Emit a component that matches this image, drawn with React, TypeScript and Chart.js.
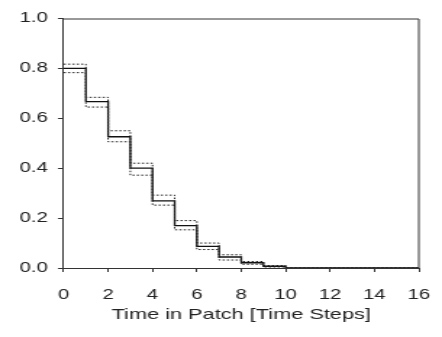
import React, { useEffect, useRef } from "react";
import { Chart, registerables } from "chart.js";

Chart.register(...registerables);

// Step boundaries (time steps) and survival proportion per step
const stepX = [0, 1, 2, 3, 4, 5, 6, 7, 8, 9, 10, 16];
const meanY = [0.8, 0.667, 0.526, 0.4, 0.269, 0.17, 0.087, 0.044, 0.021, 0.007, 0, 0];
const upperY = [0.817, 0.684, 0.55, 0.42, 0.292, 0.19, 0.1, 0.053, 0.026, 0.01, 0.001, 0];
const lowerY = [0.783, 0.645, 0.506, 0.372, 0.252, 0.153, 0.074, 0.032, 0.015, 0.004, 0, 0];

const xTicks = [0, 2, 4, 6, 8, 10, 12, 14, 16];
const yTicks = [0, 0.2, 0.4, 0.6, 0.8, 1.0];
const xTitle = "Time in Patch [Time Steps]";

const toPts = (ys: number[]) => stepX.map((x, i) => ({ x, y: ys[i] }));

// the reference's lettering is horizontally wide; draw narrow and stretch
const STRETCH = 1.45;
const W = Math.round(442 / STRETCH);
const H = 337;

const boxPlugin = {
  id: "box",
  afterDraw(chart: any) {
    const { ctx, chartArea } = chart;
    ctx.save();
    ctx.strokeStyle = "#333";
    ctx.lineWidth = 1;
    ctx.beginPath();
    ctx.moveTo(chartArea.left, chartArea.top + 0.5);
    ctx.lineTo(chartArea.right, chartArea.top + 0.5);
    ctx.lineTo(chartArea.right, chartArea.bottom);
    ctx.stroke();
    ctx.restore();
  },
};

export default function App() {
  const ref = useRef<HTMLCanvasElement>(null);
  useEffect(() => {
    const font = { family: "'Liberation Sans', Arial, sans-serif", size: 14, lineHeight: 1 };
    const chart = new Chart(ref.current!, {
      type: "line",
      data: {
        datasets: [
          {
            data: toPts(upperY),
            stepped: "before",
            borderColor: "#222",
            borderWidth: 1,
            borderDash: [1.5, 1.5],
            pointRadius: 0,
            fill: false,
          },
          {
            data: toPts(lowerY),
            stepped: "before",
            borderColor: "#222",
            borderWidth: 1,
            borderDash: [1.5, 1.5],
            pointRadius: 0,
            fill: false,
          },
          {
            data: toPts(meanY),
            stepped: "before",
            borderColor: "#111",
            borderWidth: 1.3,
            pointRadius: 0,
            fill: false,
          },
        ],
      },
      options: {
        animation: false,
        responsive: false,
        maintainAspectRatio: false,
        devicePixelRatio: 1,
        layout: { padding: { left: 6.5, right: 16, top: 18.5, bottom: 15 } },
        plugins: { legend: { display: false }, tooltip: { enabled: false } },
        scales: {
          x: {
            type: "linear",
            min: 0,
            max: 16,
            afterBuildTicks: (axis: any) => {
              axis.ticks = xTicks.map((v) => ({ value: v }));
            },
            afterFit: (axis: any) => {
              axis.paddingRight = 0;
              axis.paddingLeft = 0;
            },
            ticks: { color: "#222", font, padding: 16, maxRotation: 0 },
            grid: { drawOnChartArea: false, drawTicks: true, tickLength: 4, color: "#333" },
            border: { color: "#333", width: 1 },
            title: {
              display: true,
              text: xTitle,
              color: "#222",
              font: { ...font, size: 15 },
              padding: { top: -11, bottom: 0 },
            },
          },
          y: {
            type: "linear",
            min: 0,
            max: 1,
            afterBuildTicks: (axis: any) => {
              axis.ticks = yTicks.map((v) => ({ value: v }));
            },
            afterFit: (axis: any) => {
              axis.paddingTop = 0;
              axis.paddingBottom = 0;
            },
            ticks: { color: "#222", font, padding: 7, callback: (v: any) => Number(v).toFixed(1) },
            grid: { drawOnChartArea: false, drawTicks: true, tickLength: 4, color: "#333" },
            border: { color: "#333", width: 1 },
          },
        },
      },
      plugins: [boxPlugin],
    });
    return () => chart.destroy();
  }, []);
  return (
    <div style={{ position: "fixed", left: 0, top: 0, width: 442, height: 337, background: "#fff", overflow: "hidden" }}>
      <canvas
        ref={ref}
        width={W}
        height={H}
        style={{
          display: "block",
          width: W,
          height: H,
          transform: `scaleX(${442 / W})`,
          transformOrigin: "0 0",
        }}
      />
    </div>
  );
}
